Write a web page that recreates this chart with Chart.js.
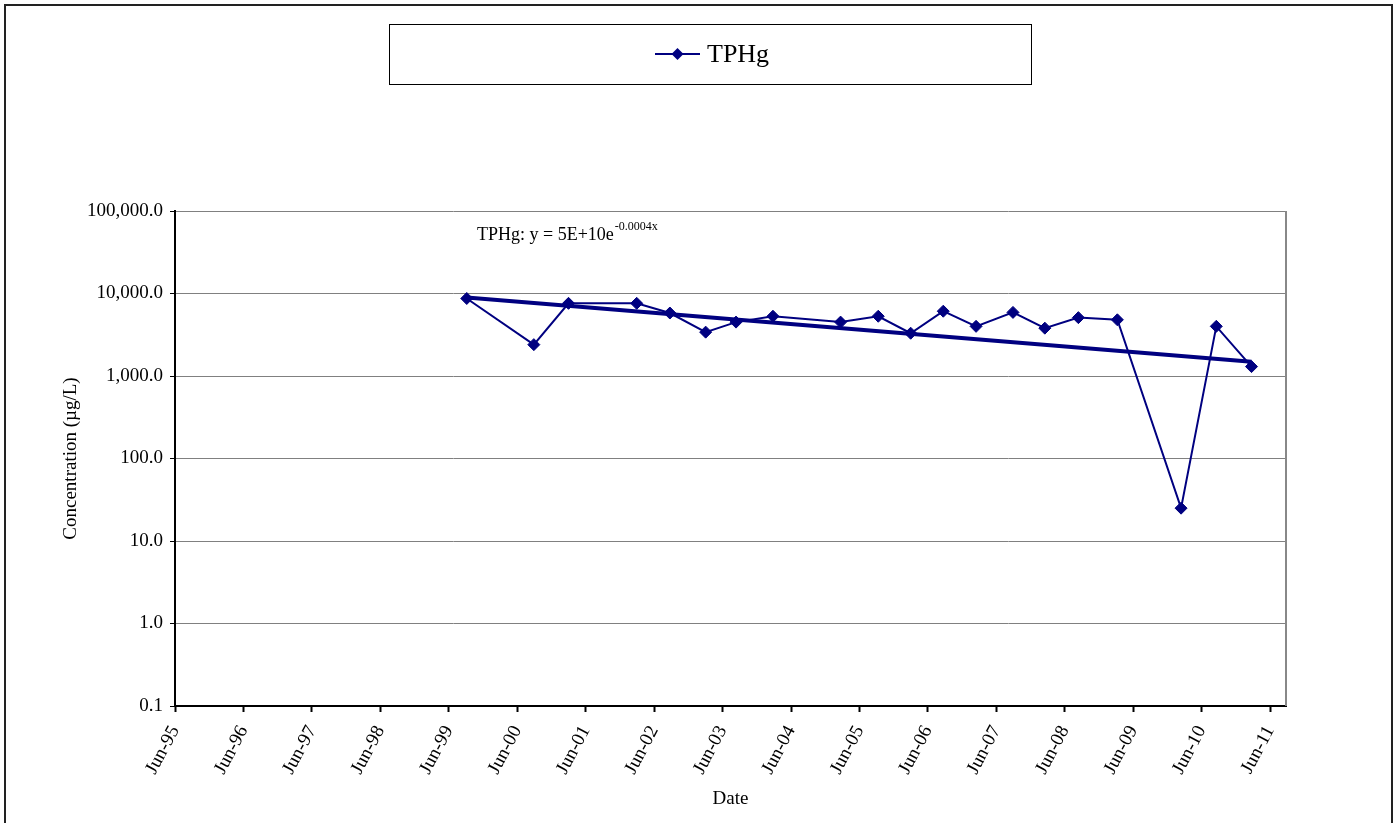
<!DOCTYPE html>
<html>
<head>
<meta charset="utf-8">
<title>TPHg Concentration vs Date</title>
<script src="https://cdn.jsdelivr.net/npm/chart.js@4.4.1/dist/chart.umd.min.js"></script>
<style>
    html, body { margin: 0; padding: 0; background: #fff; }
    #wrap { width: 1394px; height: 823px; }
</style>
</head>
<body>
<div id="wrap"><canvas id="tphgChart" width="1394" height="823"></canvas></div>
<script>
// Groundwater sampling events and TPHg results (µg/L)
const sampleDates = [
    '1999-09-05', '2000-08-28', '2001-03-01', '2002-02-28', '2002-08-24',
    '2003-03-03', '2003-08-12', '2004-02-25', '2005-02-20', '2005-09-09',
    '2006-03-01', '2006-08-22', '2007-02-13', '2007-08-29', '2008-02-15',
    '2008-08-12', '2009-03-08', '2010-02-11', '2010-08-18', '2011-02-22'
];
const tphgValues = [
    8700, 2400, 7600, 7600, 5800,
    3400, 4500, 5300, 4500, 5300,
    3300, 6100, 4000, 5900, 3800,
    5100, 4800, 25, 4000, 1300
];

// Axis range and tick labels
const axisStart = '1995-06-01';
const axisEnd = '2011-08-25';
const tickDates = [
    '1995-06-01', '1996-06-01', '1997-06-01', '1998-06-01', '1999-06-01',
    '2000-06-01', '2001-06-01', '2002-06-01', '2003-06-01', '2004-06-01',
    '2005-06-01', '2006-06-01', '2007-06-01', '2008-06-01', '2009-06-01',
    '2010-06-01', '2011-06-01'
];
const tickLabels = [
    'Jun-95', 'Jun-96', 'Jun-97', 'Jun-98', 'Jun-99', 'Jun-00', 'Jun-01', 'Jun-02',
    'Jun-03', 'Jun-04', 'Jun-05', 'Jun-06', 'Jun-07', 'Jun-08', 'Jun-09', 'Jun-10', 'Jun-11'
];
const yTicks = [0.1, 1, 10, 100, 1000, 10000, 100000];
const yTickLabels = ['0.1', '1.0', '10.0', '100.0', '1,000.0', '10,000.0', '100,000.0'];

const NAVY = '#000080';
const FONT = 'Liberation Serif, Times New Roman, serif';

/**
 * Date string -> day number (days since 1970-01-01, UTC)
 */
function dayNumber(str) {
    return Date.parse(str + 'T00:00:00Z') / 86400000;
}

/**
 * Least squares fit of ln(y) against x, returns y = a * e^(b x)
 */
function fitExpTrend(xs, ys) {
    const n = xs.length;
    const ly = ys.map(v => Math.log(v));
    const mx = xs.reduce((s, v) => s + v, 0) / n;
    const my = ly.reduce((s, v) => s + v, 0) / n;
    let sxy = 0, sxx = 0;
    for (let i = 0; i < n; i++) {
        sxy += (xs[i] - mx) * (ly[i] - my);
        sxx += (xs[i] - mx) * (xs[i] - mx);
    }
    const b = sxy / sxx;
    const a = my - b * mx;
    return x => Math.exp(a + b * x);
}

const sampleDays = sampleDates.map(dayNumber);
const tphgPoints = sampleDays.map((d, i) => ({x: d, y: tphgValues[i]}));
const trend = fitExpTrend(sampleDays, tphgValues);
const firstDay = sampleDays[0];
const lastDay = sampleDays[sampleDays.length - 1];
const trendPoints = [
    {x: firstDay, y: trend(firstDay)},
    {x: lastDay, y: trend(lastDay)}
];

/**
 * White page, outer frame, legend box, equation label and plot border
 */
const chartDecorations = {
    id: 'chartDecorations',
    beforeDraw(chart) {
        const ctx = chart.ctx;
        ctx.save();
        ctx.fillStyle = '#fff';
        ctx.fillRect(0, 0, chart.width, chart.height);
        ctx.restore();
    },
    afterDatasetsDraw(chart) {
        const ctx = chart.ctx;
        const area = chart.chartArea;
        ctx.save();

        // right edge of plot area
        ctx.strokeStyle = '#888';
        ctx.lineWidth = 2;
        ctx.beginPath();
        ctx.moveTo(area.right, area.top);
        ctx.lineTo(area.right, area.bottom);
        ctx.stroke();

        // trend equation
        ctx.fillStyle = '#000';
        ctx.textBaseline = 'alphabetic';
        ctx.textAlign = 'left';
        ctx.font = '18px ' + FONT;
        const eq = 'TPHg: y = 5E+10e';
        ctx.fillText(eq, 477, 240);
        const eqWidth = ctx.measureText(eq).width;
        ctx.font = '12px ' + FONT;
        ctx.fillText('-0.0004x', 477 + eqWidth + 1, 230);

        ctx.restore();
    },
    afterDraw(chart) {
        const ctx = chart.ctx;
        ctx.save();

        // outer frame
        ctx.strokeStyle = '#222';
        ctx.lineWidth = 2;
        ctx.strokeRect(5, 5, 1387, 900);

        // legend box
        ctx.strokeStyle = '#000';
        ctx.lineWidth = 1;
        ctx.strokeRect(389.5, 24.5, 642, 60);

        // legend sample: line + diamond
        const ly = 54;
        ctx.strokeStyle = NAVY;
        ctx.lineWidth = 2;
        ctx.beginPath();
        ctx.moveTo(655, ly);
        ctx.lineTo(700, ly);
        ctx.stroke();
        ctx.fillStyle = NAVY;
        ctx.beginPath();
        ctx.moveTo(677.5, ly - 6);
        ctx.lineTo(683.5, ly);
        ctx.lineTo(677.5, ly + 6);
        ctx.lineTo(671.5, ly);
        ctx.closePath();
        ctx.fill();

        ctx.fillStyle = '#000';
        ctx.font = '26px ' + FONT;
        ctx.textBaseline = 'middle';
        ctx.fillText('TPHg', 707, ly + 1);

        ctx.restore();
    }
};

function renderTphgChart() {
    const canvas = document.getElementById('tphgChart');
    const ctx = canvas.getContext('2d');

    new Chart(ctx, {
        type: 'line',
        data: {
            datasets: [{
                label: 'TPHg trend',
                data: trendPoints,
                borderColor: NAVY,
                borderWidth: 4,
                pointRadius: 0,
                fill: false,
                order: 0
            }, {
                label: 'TPHg',
                data: tphgPoints,
                borderColor: NAVY,
                borderWidth: 2,
                backgroundColor: NAVY,
                pointStyle: 'rectRot',
                pointRadius: 6,
                pointBorderWidth: 1,
                pointBackgroundColor: NAVY,
                pointBorderColor: NAVY,
                tension: 0,
                fill: false,
                order: 1
            }]
        },
        options: {
            responsive: false,
            animation: false,
            layout: {
                padding: {top: 211, right: 108, left: 0, bottom: 0}
            },
            plugins: {
                legend: {display: false},
                tooltip: {enabled: false}
            },
            scales: {
                x: {
                    type: 'linear',
                    min: dayNumber(axisStart),
                    max: dayNumber(axisEnd),
                    afterBuildTicks: scale => {
                        scale.ticks = tickDates.map(d => ({value: dayNumber(d)}));
                    },
                    afterFit: scale => { scale.height = 117; },
                    ticks: {
                        autoSkip: false,
                        minRotation: 62,
                        maxRotation: 62,
                        padding: 10,
                        color: '#000',
                        font: {family: FONT, size: 19},
                        callback: (value, index) => tickLabels[index]
                    },
                    grid: {
                        drawOnChartArea: false,
                        tickLength: 6,
                        tickColor: '#000',
                        tickWidth: 2
                    },
                    border: {color: '#000', width: 2},
                    title: {
                        display: true,
                        text: 'Date',
                        color: '#000',
                        font: {family: FONT, size: 19},
                        padding: {top: 0, bottom: 13}
                    }
                },
                y: {
                    type: 'logarithmic',
                    min: 0.1,
                    max: 100000,
                    afterBuildTicks: scale => {
                        scale.ticks = yTicks.map(v => ({value: v, major: true}));
                    },
                    afterFit: scale => { scale.width = 175; },
                    ticks: {
                        autoSkip: false,
                        padding: 7,
                        color: '#000',
                        font: {family: FONT, size: 19},
                        callback: (value, index) => yTickLabels[index]
                    },
                    grid: {
                        color: '#808080',
                        lineWidth: 1,
                        tickLength: 5,
                        tickColor: '#000'
                    },
                    border: {color: '#000', width: 2},
                    title: {
                        display: true,
                        text: 'Concentration (µg/L)',
                        color: '#000',
                        font: {family: FONT, size: 19},
                        padding: {top: 60, bottom: 0}
                    }
                }
            }
        },
        plugins: [chartDecorations]
    });

    console.log('TPHg chart rendered:', tphgPoints.length, 'points');
}

renderTphgChart();
</script>
</body>
</html>
